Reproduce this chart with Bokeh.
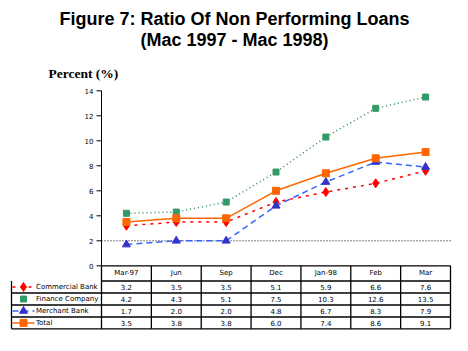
from bokeh.plotting import figure
from bokeh.models import Range1d
from bokeh.core.properties import value
from bokeh.embed import file_html
from bokeh.resources import INLINE

# ---------------- data ----------------
categories = ["Mar-97", "Jun", "Sep", "Dec", "Jan-98", "Feb", "Mar"]
commercial_bank = [3.2, 3.5, 3.5, 5.1, 5.9, 6.6, 7.6]
finance_company = [4.2, 4.3, 5.1, 7.5, 10.3, 12.6, 13.5]
merchant_bank = [1.7, 2.0, 2.0, 4.8, 6.7, 8.3, 7.9]
total = [3.5, 3.8, 3.8, 6.0, 7.4, 8.6, 9.1]
series_names = ["Commercial Bank", "Finance Company", "Merchant Bank", "Total"]
y_ticks = [0, 2, 4, 6, 8, 10, 12, 14]
reference_level = 2
title_lines = ["Figure 7: Ratio Of Non Performing Loans", "(Mac 1997 - Mac 1998)"]
y_label = "Percent (%)"

# ---------------- layout helpers (pixels -> data units) ----------------
W, H = 468, 351
X0, CW = 101.0, 349.0 / 7      # left edge of plot area, column width
Y0, YU = 265.3, 12.5           # pixel of y=0, pixels per unit


def dx(px):
    return (px - X0) / CW


def dy(py):
    return (Y0 - py) / YU


p = figure(width=W, height=H, x_range=Range1d(dx(0), dx(W)), y_range=Range1d(dy(H), dy(0)),
           output_backend="svg", toolbar_location=None, min_border=0,
           x_axis_location=None, y_axis_location=None, outline_line_color=None)
p.grid.visible = False
p.background_fill_color = "white"
p.border_fill_color = "white"

FONT = value("Liberation Sans")
TFONT = value("DejaVu Sans")
n = len(categories)
xs = [i + 0.5 for i in range(n)]

# ---------------- titles ----------------
p.text(x=[dx(234), dx(234)], y=[dy(18.5), dy(39)], text=title_lines, text_align="center",
       text_baseline="middle", text_font=FONT, text_font_style="bold", text_font_size="18px",
       text_color="black")
p.text(x=[dx(48)], y=[dy(73)], text=[y_label], text_align="left", text_baseline="middle",
       text_font=value("Liberation Serif"), text_font_style="bold", text_font_size="13.5px",
       text_color="black")

# ---------------- y axis ----------------
p.segment(x0=[0], y0=[0], x1=[0], y1=[max(y_ticks)], line_color="black", line_width=1)
p.segment(x0=[dx(96)] * len(y_ticks), y0=y_ticks, x1=[0] * len(y_ticks), y1=y_ticks,
          line_color="black", line_width=1)
p.text(x=[dx(93)] * len(y_ticks), y=y_ticks, text=[str(t) for t in y_ticks], text_align="right",
       text_baseline="middle", text_font=TFONT, text_font_size="7px", text_color="black")

# reference dotted line
p.segment(x0=[0], y0=[reference_level], x1=[n], y1=[reference_level], line_color="black",
          line_width=1, line_dash="1 2")

# ---------------- series ----------------
styles = [
    dict(vals=commercial_bank, lc="#FF0000", dash="3 5", lw=1.5, marker="diamond", mc="#FF0000", ms=9),
    dict(vals=finance_company, lc="#2E8B57", dash="1 3", lw=1.5, marker="square", mc="#339966", ms=6),
    dict(vals=merchant_bank, lc="#3366FF", dash="6 4", lw=1.5, marker="triangle", mc="#3333CC", ms=8),
    dict(vals=total, lc="#FF6600", dash="solid", lw=1.5, marker="square", mc="#FF6600", ms=7),
]
for s in styles:
    p.line(xs, s["vals"], line_color=s["lc"], line_dash=s["dash"], line_width=s["lw"])
for s in styles:
    p.scatter(xs, s["vals"], marker=s["marker"], size=s["ms"], fill_color=s["mc"],
              line_color=s["mc"])

# ---------------- data table ----------------
row_edges_px = [265.3, 280.5, 292.5, 304.5, 316.5, 328.3]
row_edges = [dy(v) for v in row_edges_px]
col_edges = list(range(n + 1))
left_edge = dx(11)

# horizontal lines
hx0 = [0, left_edge, left_edge, left_edge, left_edge]
p.segment(x0=hx0, y0=row_edges[1:], x1=[n] * 5, y1=row_edges[1:], line_color="black", line_width=1.3)
p.segment(x0=[0], y0=[row_edges[0]], x1=[n], y1=[row_edges[0]], line_color="black", line_width=1.3)
# vertical lines
p.segment(x0=col_edges, y0=[row_edges[0]] * (n + 1), x1=col_edges, y1=[row_edges[-1]] * (n + 1),
          line_color="black", line_width=1.3)
p.segment(x0=[left_edge], y0=[row_edges[1]], x1=[left_edge], y1=[row_edges[-1]],
          line_color="black", line_width=1.3)

# header
hdr_y = (row_edges[0] + row_edges[1]) / 2
p.text(x=xs, y=[hdr_y] * n, text=categories, text_align="center", text_baseline="middle",
       text_font=TFONT, text_font_size="7px", text_color="black")

# rows
for r, s in enumerate(styles):
    cy = (row_edges[r + 1] + row_edges[r + 2]) / 2
    p.text(x=xs, y=[cy] * n, text=[f"{v:.1f}" for v in s["vals"]], text_align="center",
           text_baseline="middle", text_font=TFONT, text_font_size="7px", text_color="black")
    p.text(x=[dx(35.5)], y=[cy], text=[series_names[r]], text_align="left", text_baseline="middle",
           text_font=TFONT, text_font_size="7px", text_color="black")
    if r != 1:
        p.segment(x0=[dx(12)], y0=[cy], x1=[dx(34)], y1=[cy], line_color=s["lc"],
                  line_dash=s["dash"], line_width=s["lw"])
    p.scatter([dx(23)], [cy], marker=s["marker"], size=s["ms"], fill_color=s["mc"],
              line_color=s["mc"])

open("out.html", "w").write(file_html(p, INLINE))
